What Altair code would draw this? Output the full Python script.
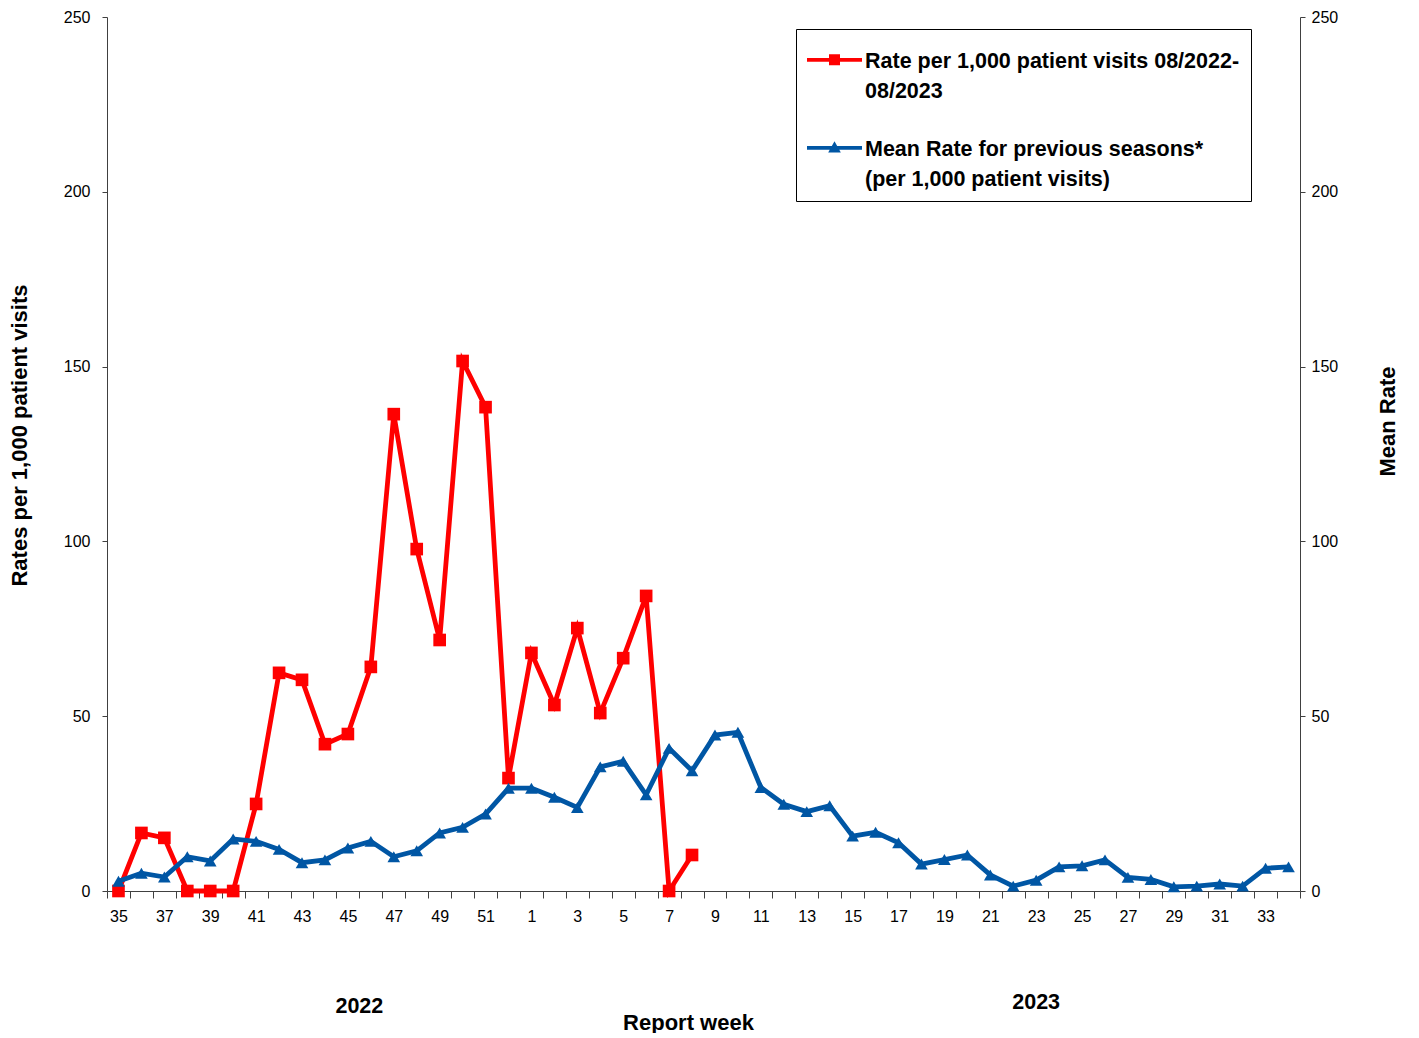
import altair as alt
import pandas as pd

# ---------------- data ----------------
weeks = [str(w) for w in list(range(35, 53)) + list(range(1, 35))]

rate_weeks = weeks[:26]  # 35 .. 8
rate_current = [0, 16.6, 15.2, 0, 0, 0, 24.9, 62.4, 60.4, 42.0, 44.9, 64.1,
                136.4, 97.8, 71.8, 151.6, 138.4, 32.3,
                68.1, 53.2, 75.2, 50.9, 66.6, 84.4, 0, 10.3]

mean_rate = [2.8, 5.1, 4.0, 9.8, 8.6, 14.9, 14.2, 11.9, 8.1, 8.9, 12.3, 14.2,
             9.8, 11.5, 16.6, 18.2, 22.0, 29.4,
             29.4, 26.8, 23.9, 35.5, 37.1, 27.5, 40.8, 34.4, 44.6, 45.4, 29.6, 24.8,
             22.7, 24.4, 15.7, 16.8, 13.8, 7.7, 9.0, 10.3, 4.6, 1.4, 3.1, 6.9, 7.2,
             8.9, 3.9, 3.3, 1.2, 1.4, 2.0, 1.4, 6.5, 6.9]

series_names = ["Rate per 1,000 patient visits 08/2022-|08/2023",
                "Mean Rate for previous seasons*|(per 1,000 patient visits)"]

year_labels = ["2022", "2023"]
year_weeks = ["46", "23"]

y_ticks = [0, 50, 100, 150, 200, 250]

RED = "#FF0000"
BLUE = "#0056A4"
FONT = "Liberation Sans, Arial, sans-serif"
AXIS_COLOR = "#404040"

df_cur = pd.DataFrame({"week": rate_weeks, "value": rate_current, "series": series_names[0]})
df_mean = pd.DataFrame({"week": weeks, "value": mean_rate, "series": series_names[1]})
df_years = pd.DataFrame({"year": year_labels, "week": year_weeks})
df_legend = pd.DataFrame({"series": series_names})

# ---------------- encodings ----------------
x_scale = alt.Scale(type="band", domain=weeks, paddingInner=0, paddingOuter=0)

x_enc = alt.X(
    "week:O", sort=weeks, scale=x_scale,
    axis=alt.Axis(
        title="Report week", titleFont=FONT, titleFontSize=22, titleFontWeight="bold",
        titleColor="black", titleX=581, titleY=131, titleBaseline="middle",
        labelFont=FONT, labelFontSize=16, labelColor="black", labelAngle=0,
        labelPadding=10, labelOverlap=False,
        labelExpr="toNumber(datum.value) % 2 == 1 ? datum.label : ''",
        tickBand="extent", tickSize=7, tickColor=AXIS_COLOR,
        domainColor=AXIS_COLOR, grid=False,
    ),
)

y_left = alt.Y(
    "value:Q", scale=alt.Scale(domain=[0, 250]),
    axis=alt.Axis(
        title="Rates per 1,000 patient visits", values=y_ticks, grid=False,
        titleFont=FONT, titleFontSize=22, titleFontWeight="bold", titleColor="black",
        titlePadding=32, titleY=418,
        labelFont=FONT, labelFontSize=16, labelColor="black", labelPadding=12,
        tickSize=5, tickColor=AXIS_COLOR, domainColor=AXIS_COLOR,
    ),
)

y_right = alt.Y(
    "value:Q", scale=alt.Scale(domain=[0, 250]),
    axis=alt.Axis(
        orient="right", title="Mean Rate", values=y_ticks, grid=False,
        titleFont=FONT, titleFontSize=22, titleFontWeight="bold", titleColor="black",
        titlePadding=62, titleAngle=270, titleY=404,
        labelFont=FONT, labelFontSize=16, labelColor="black", labelPadding=6,
        tickSize=5, tickColor=AXIS_COLOR, domainColor=AXIS_COLOR,
    ),
)

# ---------------- layers ----------------
red_line = alt.Chart(df_cur).mark_line(color=RED, strokeWidth=4.8).encode(x=x_enc, y=y_left)
red_pts = alt.Chart(df_cur).mark_point(shape="square", filled=True, size=160, color=RED,
                                       opacity=1).encode(x=x_enc, y=y_left)
left = alt.layer(red_line, red_pts)

blue_line = alt.Chart(df_mean).mark_line(color=BLUE, strokeWidth=4.8).encode(x=x_enc, y=y_right)
blue_pts = alt.Chart(df_mean).mark_point(shape="triangle-up", filled=True, size=160, color=BLUE,
                                         opacity=1).encode(x=x_enc, y=y_right)
right = alt.layer(blue_line, blue_pts)

# legend glyphs: line segment with marker, lifted to sit on the first label line
sq_path = "M-1,-0.35H1V-0.21H-1Z M-0.2,-0.48H0.2V-0.08H-0.2Z"
tri_path = "M-1,-0.35H1V-0.21H-1Z M0,-0.52L0.23,-0.11H-0.23Z"

legend_def = dict(
    title=None, orient="none", legendX=689, legendY=12,
    labelFont=FONT, labelFontSize=21.5, labelFontWeight="bold", labelColor="black",
    labelLimit=500, labelOffset=3, labelBaseline="alphabetic",
    labelExpr="split(datum.label, '|')",
    strokeColor="black", fillColor="white", padding=11,
    symbolSize=3025, symbolStrokeWidth=0, symbolOpacity=1, rowPadding=26,
)

legend_layer = alt.Chart(df_legend).transform_filter("false").mark_point(
    filled=True, opacity=1
).encode(
    color=alt.Color("series:N", scale=alt.Scale(domain=series_names, range=[RED, BLUE]),
                    legend=alt.Legend(**legend_def)),
    shape=alt.Shape("series:N", scale=alt.Scale(domain=series_names, range=[sq_path, tri_path]),
                    legend=alt.Legend(**legend_def)),
)

year_base = alt.Chart(df_years).mark_text(
    font=FONT, fontSize=21.5, fontWeight="bold", color="black", baseline="middle", align="center"
)
year_2022 = year_base.transform_filter(alt.datum.year == year_labels[0]).encode(
    x=alt.X("week:O", sort=weeks, scale=x_scale, bandPosition=0),
    y=alt.value(990),
    text="year:N",
)
year_2023 = year_base.transform_filter(alt.datum.year == year_labels[1]).encode(
    x=alt.X("week:O", sort=weeks, scale=x_scale, bandPosition=0.5),
    y=alt.value(986),
    text="year:N",
)

chart = alt.layer(left, right, legend_layer, year_2022, year_2023).resolve_scale(
    y="independent"
).properties(
    width=1193, height=874,
    padding={"left": 0, "top": 1, "right": 0, "bottom": 0},
).configure(
    style={"guide-label": {"lineHeight": 30}}
).configure_view(stroke=None)

chart.save("out.html", embed_options={"renderer": "svg", "actions": False})
